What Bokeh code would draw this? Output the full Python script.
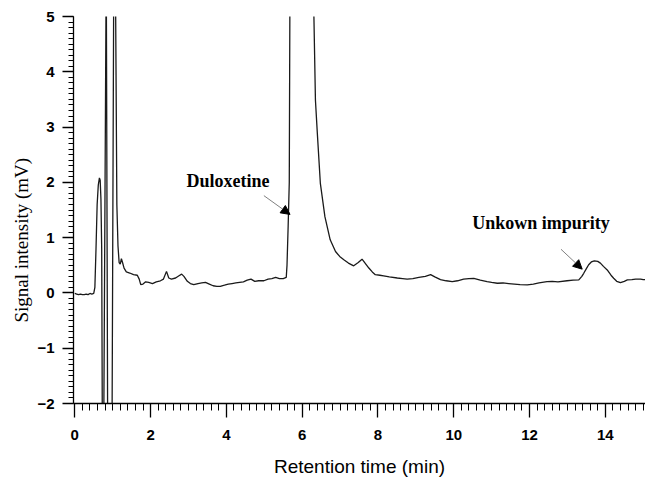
from bokeh.plotting import figure
from bokeh.models import (Range1d, SingleIntervalTicker, Label, Arrow, NormalHead,
                          ColumnDataSource, Title)
from bokeh.embed import file_html
from bokeh.resources import INLINE

# Chromatogram trace (retention time in min, signal in mV)
time_min = [
    0.00, 0.05, 0.10, 0.15, 0.20, 0.25, 0.30, 0.35, 0.40, 0.45, 0.50,
    0.53, 0.56, 0.59, 0.62, 0.65, 0.67, 0.69, 0.71, 0.73, 0.76, 0.83,
    0.87, 0.91, 0.98, 1.03, 1.07, 1.11, 1.14, 1.17, 1.20, 1.23, 1.26,
    1.30, 1.36, 1.45, 1.55, 1.65, 1.70, 1.74, 1.80, 1.87, 1.95, 2.05,
    2.15, 2.26, 2.34, 2.42, 2.48, 2.55, 2.66, 2.75, 2.82, 2.88, 2.97,
    3.05, 3.14, 3.25, 3.35, 3.45, 3.55, 3.65, 3.75, 3.84, 3.95, 4.05,
    4.15, 4.25, 4.35, 4.45, 4.55, 4.65, 4.75, 4.85, 4.99, 5.10, 5.20,
    5.30, 5.40, 5.50, 5.58, 5.60, 5.63, 5.66, 5.68, 6.27, 6.31, 6.35,
    6.40, 6.48, 6.60, 6.74, 6.88, 6.99, 7.10, 7.22, 7.36, 7.48, 7.58,
    7.66, 7.76, 7.85, 7.93, 8.05, 8.15, 8.30, 8.51, 8.65, 8.77, 8.92,
    9.08, 9.25, 9.39, 9.50, 9.65, 9.80, 9.96, 10.10, 10.26, 10.40, 10.53,
    10.70, 10.88, 11.00, 11.15, 11.30, 11.45, 11.60, 11.75, 11.94, 12.10,
    12.25, 12.46, 12.60, 12.75, 12.99, 13.15, 13.30, 13.38, 13.43, 13.50,
    13.56, 13.63, 13.71, 13.80, 13.87, 13.95, 14.05, 14.15, 14.22, 14.30,
    14.40, 14.50, 14.58, 14.70, 14.80, 14.93, 15.00, 15.10,
]
signal_mv = [
    -0.01, -0.02, -0.03, -0.02, -0.03, -0.03, -0.02, -0.03, -0.01, -0.02, -0.01,
    0.10, 0.80, 1.60, 1.95, 2.08, 2.04, 1.70, 0.80, -3.0, -3.0, 6.0,
    -3.0, -3.0, -3.0, 6.0, 6.0, 1.60, 0.85, 0.55, 0.52, 0.62, 0.55,
    0.45, 0.38, 0.36, 0.33, 0.32, 0.25, 0.15, 0.16, 0.20, 0.19, 0.17,
    0.20, 0.22, 0.25, 0.39, 0.27, 0.25, 0.27, 0.31, 0.34, 0.30, 0.21,
    0.17, 0.15, 0.17, 0.18, 0.19, 0.16, 0.13, 0.12, 0.12, 0.14, 0.16,
    0.17, 0.18, 0.19, 0.20, 0.23, 0.25, 0.21, 0.22, 0.22, 0.25, 0.26,
    0.28, 0.26, 0.26, 0.28, 0.50, 1.20, 2.00, 6.0, 6.0, 5.0, 3.49,
    2.89, 1.98, 1.38, 0.96, 0.75, 0.66, 0.60, 0.54, 0.49, 0.55, 0.61,
    0.54, 0.45, 0.38, 0.33, 0.32, 0.31, 0.29, 0.27, 0.26, 0.25, 0.26,
    0.28, 0.30, 0.33, 0.29, 0.24, 0.22, 0.205, 0.22, 0.25, 0.26, 0.265,
    0.23, 0.205, 0.19, 0.175, 0.18, 0.17, 0.16, 0.15, 0.145, 0.16,
    0.18, 0.205, 0.21, 0.20, 0.22, 0.23, 0.235, 0.30, 0.355, 0.44,
    0.51, 0.56, 0.58, 0.57, 0.54, 0.48, 0.415, 0.32, 0.265, 0.21,
    0.185, 0.21, 0.235, 0.24, 0.25, 0.25, 0.24, 0.24,
]

x_label = "Retention time (min)"
y_label = "Signal intensity (mV)"
peak_labels = ["Duloxetine", "Unkown impurity"]

TICK_FONT = "Liberation Sans"

p = figure(width=645, height=479, output_backend="svg", toolbar_location=None,
           x_range=Range1d(-0.034, 15.06), y_range=Range1d(-2.0, 5.0),
           min_border_left=73, min_border_right=0, min_border_top=16,
           min_border_bottom=10)
p.outline_line_color = None
p.grid.visible = False
p.background_fill_color = "white"

src = ColumnDataSource(dict(t=time_min, s=signal_mv))
p.line("t", "s", source=src, line_color="#1a1a1a", line_width=1.3)

# axes
p.xaxis.ticker = SingleIntervalTicker(interval=2, num_minor_ticks=10)
p.yaxis.ticker = SingleIntervalTicker(interval=1, num_minor_ticks=10)
for ax in (p.xaxis, p.yaxis):
    ax.axis_line_color = "black"
    ax.axis_line_width = 1.3
    ax.major_tick_line_color = "black"
    ax.minor_tick_line_color = "black"
    ax.major_tick_line_width = 1.3
    ax.minor_tick_line_width = 1
    ax.major_tick_in = 0
    ax.minor_tick_in = 0
    ax.major_label_text_font = TICK_FONT
    ax.major_label_text_font_style = "bold"
    ax.major_label_text_font_size = "15px"
    ax.major_label_text_color = "black"
p.xaxis.major_tick_out = 14
p.xaxis.minor_tick_out = 7
p.yaxis.major_tick_out = 11
p.yaxis.minor_tick_out = 5
p.xaxis.major_label_standoff = 12
p.yaxis.major_label_standoff = 8

p.xaxis.axis_label = x_label
p.xaxis.axis_label_text_font = "Liberation Sans"
p.xaxis.axis_label_text_font_style = "normal"
p.xaxis.axis_label_text_font_size = "19px"
p.xaxis.axis_label_text_color = "black"
p.xaxis.axis_label_standoff = 13

# y axis title, starting above the bottom of the axis as in the reference
p.add_layout(Title(text=y_label, align="left", offset=81,
                   text_font="Liberation Serif", text_font_style="normal",
                   text_font_size="19px", text_color="black", standoff=6),
             "left")

# peak annotations
p.add_layout(Label(x=4.04, y=2.03, text=peak_labels[0], text_align="center",
                   text_baseline="middle", text_font="Liberation Serif",
                   text_font_style="bold", text_font_size="18px", text_color="black"))
p.add_layout(Label(x=12.30, y=1.27, text=peak_labels[1], text_align="center",
                   text_baseline="middle", text_font="Liberation Serif",
                   text_font_style="bold", text_font_size="18px", text_color="black"))

for (x0, y0, x1, y1) in [(4.99, 1.76, 5.68, 1.42), (12.83, 0.79, 13.39, 0.43)]:
    p.add_layout(Arrow(end=NormalHead(size=9, fill_color="black", line_color="black"),
                       x_start=x0, y_start=y0, x_end=x1, y_end=y1,
                       line_color="#808080", line_width=1))

open("out.html", "w").write(file_html(p, INLINE))
